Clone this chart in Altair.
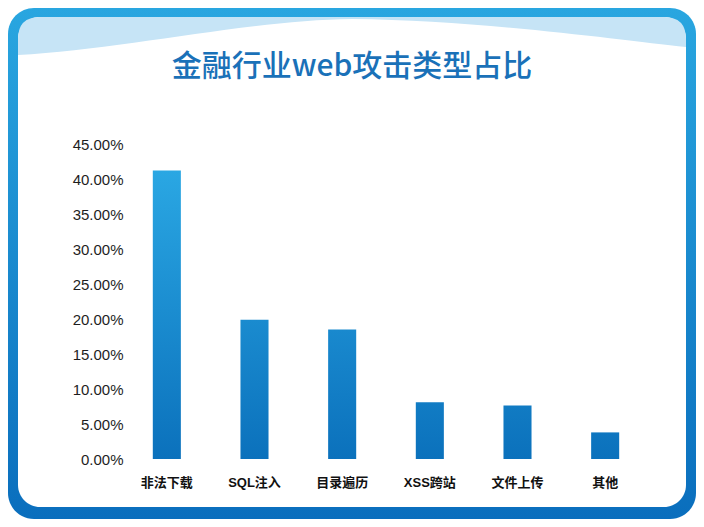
import altair as alt

# ---------------- data ----------------
categories = ["非法下载", "SQL注入", "目录遍历", "XSS跨站", "文件上传", "其他"]
shares = [0.412, 0.199, 0.185, 0.081, 0.0765, 0.038]
y_ticks = [0, 0.05, 0.10, 0.15, 0.20, 0.25, 0.30, 0.35, 0.40, 0.45]
title_text = "金融行业web攻击类型占比"

# ---------------- styles ----------------
BAR_TOP = (0x2A, 0xA7, 0xE3)
BAR_BOTTOM = (0x0B, 0x71, 0xBC)
FRAME_TOP = "#29a6e0"
FRAME_BOTTOM = "#0a6ebd"
WAVE_COLOR = "#c6e4f6"
TITLE_COLOR = "#1a71b8"

# page position of the plot origin (page margin 8 + padding)
PAD = {"left": 115, "top": 136, "right": 47, "bottom": 60}
W, H = 526, 315
X0 = 8 + PAD["left"]
Y0 = 8 + PAD["top"]
TOTAL_W = PAD["left"] + W + PAD["right"]
TOTAL_H = PAD["top"] + H + PAD["bottom"]


def px(x):
    return x - X0


def py(y):
    return y - Y0


def mix(c0, c1, t):
    return tuple(round(a + (b - a) * t) for a, b in zip(c0, c1))


def hexc(c):
    return "#%02x%02x%02x" % c


vmax = max(shares)
records = []
for cat, v in zip(categories, shares):
    top = mix(BAR_BOTTOM, BAR_TOP, v / vmax)
    records.append({
        "category": cat,
        "share": v,
        "grad": {
            "gradient": "linear", "x1": 0, "y1": 0, "x2": 0, "y2": 1,
            "stops": [
                {"offset": 0, "color": hexc(top)},
                {"offset": 1, "color": hexc(BAR_BOTTOM)},
            ],
        },
    })
bar_data = alt.Data(values=records)
one = alt.Data(values=[{"d": 0}])

# ---------------- decorative frame ----------------
page_left, page_right = 8, 8 + TOTAL_W
page_top, page_bottom = 8, 8 + TOTAL_H

outer = alt.Chart(one).mark_rect(
    cornerRadius=26,
    clip=False,
    fill=alt.LinearGradient(
        gradient="linear", x1=0, y1=0, x2=0, y2=1,
        stops=[alt.GradientStop(color=FRAME_TOP, offset=0),
               alt.GradientStop(color=FRAME_BOTTOM, offset=1)],
    ),
).encode(
    x=alt.value(px(page_left)), x2=alt.value(px(page_right)),
    y=alt.value(py(page_top)), y2=alt.value(py(page_bottom)),
)

in_l, in_r, in_t, in_b = page_left + 10, page_right - 10, page_top + 9, page_bottom - 12
inner = alt.Chart(one).mark_rect(cornerRadius=22, clip=False, fill="white").encode(
    x=alt.value(px(in_l)), x2=alt.value(px(in_r)),
    y=alt.value(py(in_t)), y2=alt.value(py(in_b)),
)

# wave shape as a custom symbol path (page coords converted to unit coords)
CX, CY, K = 352, 40, 340.0


def u(x, y):
    return "%.5f,%.5f" % ((x - CX) / K, (y - CY) / K)


r = 22
wave_path = (
    "M" + u(in_l, in_t + r)
    + " Q" + u(in_l, in_t) + " " + u(in_l + r, in_t)
    + " L" + u(in_r - r, in_t)
    + " Q" + u(in_r, in_t) + " " + u(in_r, in_t + r)
    + " L" + u(in_r, 47)
    + " C" + u(620, 40) + " " + u(480, 20) + " " + u(352, 19)
    + " C" + u(250, 20) + " " + u(120, 50) + " " + u(in_l, 55)
    + " Z"
)
wave = alt.Chart(one).mark_point(
    shape=wave_path, filled=True, fill=WAVE_COLOR, opacity=1,
    strokeWidth=0, size=(2 * K) ** 2, clip=False,
).encode(x=alt.value(px(CX)), y=alt.value(py(CY)))

# ---------------- title ----------------
title = alt.Chart(one).mark_text(
    font="Noto Sans CJK SC", fontSize=30, fontWeight=500,
    color=TITLE_COLOR, align="center", baseline="middle", clip=False,
).encode(
    x=alt.value(px(352)), y=alt.value(py(67)), text=alt.value(title_text),
)

# ---------------- bars ----------------
bars = alt.Chart(bar_data).mark_bar().encode(
    x=alt.X(
        "category:N", sort=categories,
        scale=alt.Scale(paddingInner=0.68, paddingOuter=0.34),
        axis=alt.Axis(
            title=None, labelAngle=0, ticks=False, domain=False,
            labelFont="Liberation Sans, Noto Sans CJK SC", labelFontSize=13,
            labelFontWeight="bold", labelColor="#111111", labelPadding=17,
            zindex=1,
        ),
    ),
    y=alt.Y(
        "share:Q",
        scale=alt.Scale(domain=[0, 0.45], nice=False, zero=True),
        axis=alt.Axis(
            values=y_ticks, format=".2%", title=None, grid=False,
            ticks=False, domain=False, labelFont="Liberation Sans",
            labelFontSize=15, labelColor="#1e1e1e", labelPadding=0,
            zindex=1,
        ),
    ),
    fill=alt.Fill("grad:N", scale=None),
)

chart = alt.layer(outer, inner, wave, title, bars).properties(
    width=W, height=H,
    padding=PAD,
    autosize=alt.AutoSizeParams(type="none"),
    background="white",
).configure_view(stroke=None)

chart.save("out.html", embed_options={"renderer": "svg", "actions": False})
